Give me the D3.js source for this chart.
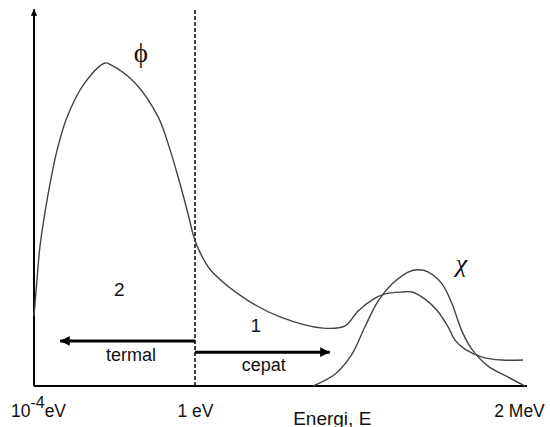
<!DOCTYPE html>
<html>
<head>
<meta charset="utf-8">
<script src="https://cdn.jsdelivr.net/npm/d3@7"></script>
<style>
  html, body { margin: 0; padding: 0; background: #fff; }
  svg { display: block; }
</style>
</head>
<body>
<svg id="chart" width="550" height="427"></svg>
<script>
// Relative position along the energy axis (0 = 10^-4 eV, 100 = 2 MeV), relative flux (0..100)
const tickPos = [0, 32.66, 100];
const tickLabels = ["10^-4eV", "1 eV", "2 MeV"];
const boundaryX = 32.66; // 1 eV

const phiX = [0, 0.6, 1.2, 2.2, 3.4, 4.7, 6.7, 10.3, 14.4, 15.6, 20.5, 25.2, 27.6, 29.4, 31.2, 32.3, 33.1, 34.7, 36.3, 43.2, 49.9, 58.6, 63.1, 65.7, 68.6, 71.2, 74.8, 76.7, 79.3, 81.9, 84.0, 85.4, 87.4, 90.9, 94.9, 99.2];
const phiY = [18.6, 28.2, 37.0, 46.0, 54.8, 62.8, 71.5, 80.6, 85.9, 85.4, 80.6, 71.5, 62.8, 54.8, 46.0, 40.2, 37.2, 33.0, 30.1, 22.9, 18.4, 15.4, 16.0, 19.9, 22.9, 24.5, 25.0, 25.0, 23.1, 19.9, 15.7, 12.2, 9.8, 7.7, 6.9, 6.9];

const chiX = [56.6, 61.1, 64.5, 67.1, 69.8, 72.6, 75.9, 77.9, 80.0, 82.8, 84.8, 86.8, 88.8, 92.1, 96.1, 99.6];
const chiY = [0, 3.2, 8.5, 15.7, 22.6, 27.1, 30.3, 30.9, 30.3, 27.1, 21.8, 14.6, 9.8, 5.3, 2.4, 0];

const regionLabels = [
  { text: "2", x: 17.3, y: 25.3, size: 19 },
  { text: "1", x: 45.0, y: 15.7, size: 19 }
];
const arrows = [
  { name: "termal", from: boundaryX, to: 5.3, y: 12.0, labelX: 19.7, labelY: 6.6 },
  { name: "cepat", from: boundaryX, to: 60.0, y: 9.0, labelX: 46.6, labelY: 3.9 }
];

const svg = d3.select("#chart");
const x = d3.scaleLinear().domain([0, 100]).range([34, 527]);
const y = d3.scaleLinear().domain([0, 100]).range([386, 10]);

const defs = svg.append("defs");
defs.append("marker")
  .attr("id", "head")
  .attr("viewBox", "0 0 10 10")
  .attr("refX", 10).attr("refY", 5)
  .attr("markerWidth", 4.6).attr("markerHeight", 3.2)
  .attr("markerUnits", "strokeWidth")
  .attr("orient", "auto")
  .append("path").attr("d", "M0,0 L10,5 L0,10 Z").attr("fill", "#000");

// dashed boundary at 1 eV
svg.append("line")
  .attr("x1", x(boundaryX)).attr("x2", x(boundaryX))
  .attr("y1", y(0)).attr("y2", y(100.5))
  .attr("stroke", "#000").attr("stroke-width", 1.5)
  .attr("stroke-dasharray", "4,2");

// axes
const xAxis = d3.axisBottom(x).tickValues(tickPos).tickSize(0).tickFormat((d, i) => tickLabels[i]);
const gx = svg.append("g").attr("transform", `translate(0,${y(0)})`).call(xAxis);
gx.select(".domain").remove();
gx.selectAll("text")
  .attr("font-family", "Liberation Sans, Arial, sans-serif")
  .attr("font-size", 17.5).attr("fill", "#111")
  .attr("dy", null).attr("y", 31)
  .each(function (d, i) {
    const t = d3.select(this);
    const lab = tickLabels[i];
    if (i === 0) t.attr("dx", 4);
    if (i === 2) t.attr("dx", -8);
    if (lab.includes("^")) {
      const m = lab.match(/^(\d+)\^(-?\d+)(.*)$/);
      t.text(null);
      t.append("tspan").text(m[1]);
      t.append("tspan").attr("dy", -9).attr("font-size", 16).text(m[2]);
      t.append("tspan").attr("dy", 9).text(m[3]);
    }
  });

svg.append("line")
  .attr("x1", x(0)).attr("x2", x(100))
  .attr("y1", y(0)).attr("y2", y(0))
  .attr("stroke", "#000").attr("stroke-width", 2);
svg.append("line")
  .attr("x1", x(0)).attr("x2", x(0))
  .attr("y1", y(0)).attr("y2", y(100.2))
  .attr("stroke", "#000").attr("stroke-width", 2)
  .attr("marker-end", "url(#head)");

svg.append("text")
  .attr("x", x(60.5)).attr("y", 425)
  .attr("text-anchor", "middle")
  .attr("font-family", "Liberation Sans, Arial, sans-serif")
  .attr("font-size", 19).attr("fill", "#111")
  .text("Energi, E");

// curves
const line = d3.line().x(d => x(d[0])).y(d => y(d[1])).curve(d3.curveCatmullRom.alpha(0.5));
svg.append("path")
  .datum(phiX.map((v, i) => [v, phiY[i]]))
  .attr("d", line).attr("fill", "none")
  .attr("stroke", "#444").attr("stroke-width", 1.4);
svg.append("path")
  .datum(chiX.map((v, i) => [v, chiY[i]]))
  .attr("d", line).attr("fill", "none")
  .attr("stroke", "#444").attr("stroke-width", 1.4);

// arrows
arrows.forEach(a => {
  svg.append("line")
    .attr("x1", x(a.from)).attr("x2", x(a.to))
    .attr("y1", y(a.y)).attr("y2", y(a.y))
    .attr("stroke", "#000").attr("stroke-width", 3)
    .attr("marker-end", "url(#head)");
  svg.append("text")
    .attr("x", x(a.labelX)).attr("y", y(a.labelY))
    .attr("text-anchor", "middle")
    .attr("font-family", "Liberation Sans, Arial, sans-serif")
    .attr("font-size", 18).attr("fill", "#111")
    .text(a.name);
});

regionLabels.forEach(r => {
  svg.append("text")
    .attr("x", x(r.x)).attr("y", y(r.y))
    .attr("text-anchor", "middle").attr("dominant-baseline", "middle")
    .attr("font-family", "Liberation Sans, Arial, sans-serif")
    .attr("font-size", r.size).attr("fill", "#111")
    .text(r.text);
});

// curve symbols
svg.append("text")
  .attr("x", x(21.7)).attr("y", 62)
  .attr("text-anchor", "middle")
  .attr("font-family", "Liberation Serif, Times New Roman, serif")
  .attr("font-size", 27).attr("fill", "#111")
  .text("ϕ");
svg.append("text")
  .attr("x", x(86.7)).attr("y", 272)
  .attr("text-anchor", "middle")
  .attr("font-family", "Liberation Serif, Times New Roman, serif")
  .attr("font-style", "italic")
  .attr("font-size", 26).attr("fill", "#111")
  .text("χ");
</script>
</body>
</html>
